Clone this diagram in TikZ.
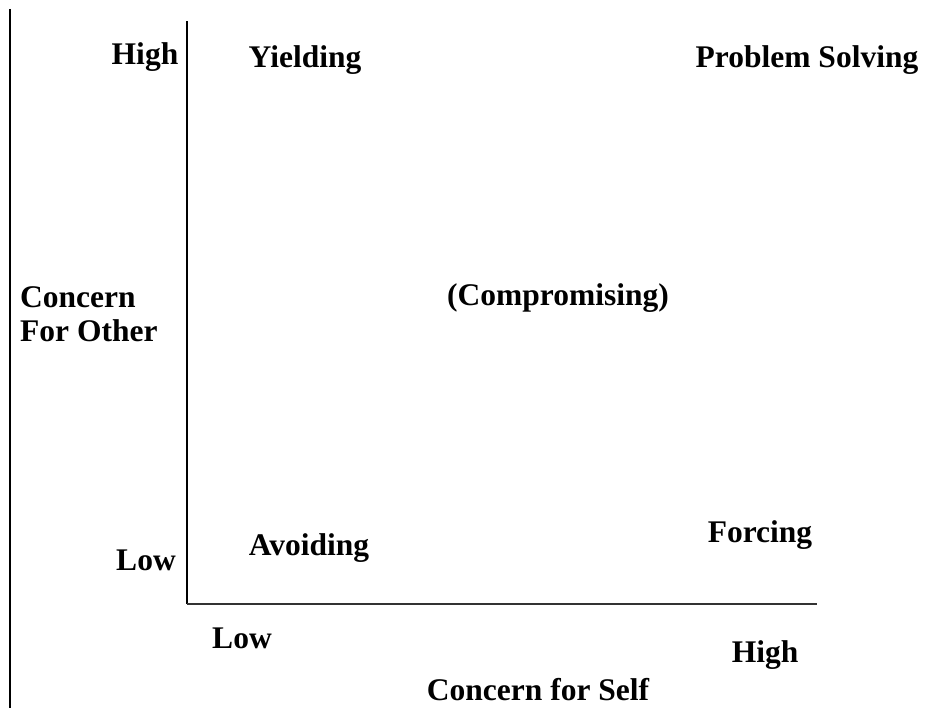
\documentclass[tikz,border=0pt]{standalone}
\usepackage{fontspec}
\setmainfont{Liberation Serif}
\begin{document}
\begin{tikzpicture}[x=1pt,y=-1pt,
  lbl/.style={font=\fontsize{31.5}{34}\selectfont\bfseries, inner sep=0pt, text=black},
  axis/.style={line width=1.8pt, black}]
\useasboundingbox (0,0) rectangle (933,708);
\coordinate (bt) at (10,9);
\coordinate (bb) at (10,708);
\coordinate (o) at (187,604);
\coordinate (yt) at (187,21);
\coordinate (xr) at (817,604);
\draw[axis] (bt) -- (bb);
\draw[axis] (o) -- (yt);
\draw[line width=1.5pt, black!80] (o) -- (xr);
\node[lbl] (hy) at (145,57) {High};
\node[lbl] (ly) at (146,560) {Low};
\node[lbl] (yield) at (305,60) {Yielding};
\node[lbl] (ps) at (807,60) {Problem Solving};
\node[lbl, anchor=west, align=left] (cfo) at (20,314) {Concern\\For Other};
\node[lbl] (comp) at (558,298) {(Compromising)};
\node[lbl] (avoid) at (309,548) {Avoiding};
\node[lbl] (force) at (760,535) {Forcing};
\node[lbl] (lx) at (242,638) {Low};
\node[lbl] (hx) at (765,655) {High};
\node[lbl] (cfs) at (538,690) {Concern for Self};
\end{tikzpicture}
\end{document}
